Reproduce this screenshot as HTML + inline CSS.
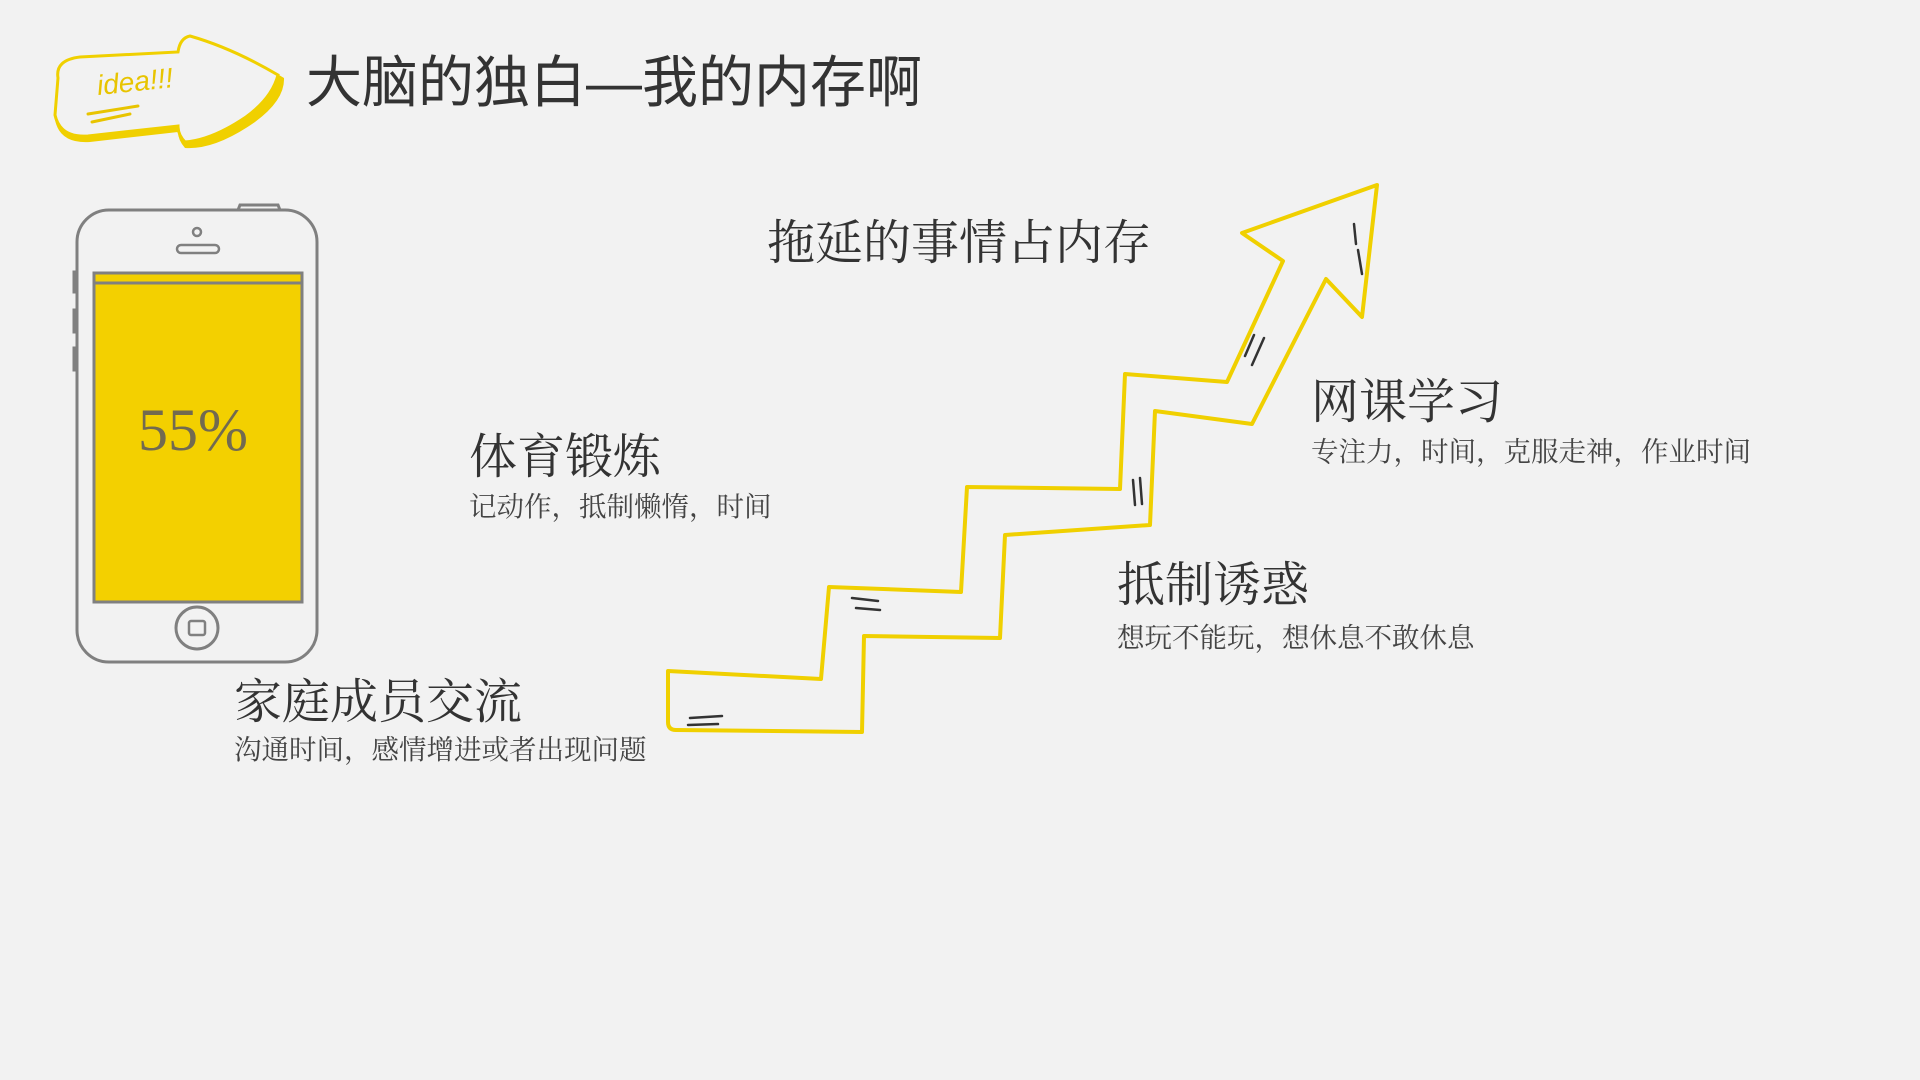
<!DOCTYPE html>
<html><head><meta charset="utf-8"><style>
html,body{margin:0;padding:0;background:#f2f2f2;}
body{width:1920px;height:1080px;position:relative;overflow:hidden;}
.t{position:absolute;white-space:nowrap;color:#333;font-family:"Liberation Serif","Noto Serif CJK SC",serif;line-height:1;}
.h{font-size:48px;}
.s{font-size:27.5px;color:#444;}
</style></head><body>
<svg width="1920" height="1080" style="position:absolute;left:0;top:0">
  <!-- idea arrow -->
  <path d="M60,80 Q55,60 80,58 L178,52 Q180,38 190,36 Q235,48 284,78 Q285,100 255,122 Q215,150 185,148 Q178,140 178,132 L90,142 Q60,144 55,120 Z" fill="#f0d000"/>
  <path d="M58,78 Q55,60 80,57 L178,52 Q180,38 190,36 Q232,48 278,75 Q272,98 246,117 Q212,140 185,142 Q178,135 178,126 L88,136 Q60,138 55,115 Z" fill="#f2f2f2" stroke="#f0d000" stroke-width="3"/>
  <text x="98" y="95" font-family="Liberation Sans, sans-serif" font-style="italic" font-size="28" fill="#e8c400" transform="rotate(-6 98 95)">idea!!!</text>
  <path d="M88,114 L138,106 M92,122 L130,114" stroke="#e8c400" stroke-width="3" fill="none" stroke-linecap="round"/>
  <!-- phone -->
  <rect x="77" y="210" width="240" height="452" rx="32" fill="#f2f2f2" stroke="#808080" stroke-width="3"/>
  <path d="M238,210 L240,205 L278,205 L280,210" fill="none" stroke="#808080" stroke-width="3"/>
  <path d="M77,272 h-3 v20 h3 M77,310 h-3 v22 h3 M77,348 h-3 v22 h3" fill="none" stroke="#808080" stroke-width="3"/>
  <rect x="94" y="273" width="208" height="329" fill="#f3d000" stroke="#808080" stroke-width="3"/>
  <line x1="94" y1="283" x2="302" y2="283" stroke="#808080" stroke-width="3"/>
  <circle cx="197" cy="232" r="4" fill="none" stroke="#808080" stroke-width="2.5"/>
  <rect x="177" y="245" width="42" height="8" rx="4" fill="none" stroke="#808080" stroke-width="2.5"/>
  <circle cx="197" cy="628" r="21" fill="none" stroke="#808080" stroke-width="3"/>
  <rect x="189" y="621" width="16" height="14" rx="2" fill="none" stroke="#808080" stroke-width="2.5"/>
  <text x="193" y="450" text-anchor="middle" font-family="Liberation Serif, serif" font-size="60" fill="#726a50">55%</text>
  <!-- stairs -->
  <path d="M668,671 L668,722 Q668,730 676,730 L862,732 L864,636 L1000,638 L1005,535 L1150,525 L1155,411 L1252,424 L1326,279 L1362,317 L1377,185 L1242,233 L1283,261 L1227,382 L1125,374 L1120,489 L967,487 L961,592 L829,587 L821,679 Z" fill="none" stroke="#f0d000" stroke-width="4" stroke-linejoin="round"/>
  <g stroke="#333" stroke-width="2.5" stroke-linecap="round" fill="none">
    <path d="M688,725 L718,724 M690,718 L722,716"/>
    <path d="M852,598 L878,601 M856,608 L880,610"/>
    <path d="M1133,480 L1135,505 M1140,478 L1142,504"/>
    <path d="M1245,356 L1254,335 M1252,365 L1264,338"/>
    <path d="M1354,224 L1356,244 M1358,250 L1362,274"/>
  </g>
</svg>
<div class="t" style="left:306px;top:55px;font-size:56px;font-family:'Liberation Sans','Noto Sans CJK SC',sans-serif;color:#333;">大脑的独白—我的内存啊</div>
<div class="t h" style="left:767px;top:220px;">拖延的事情占内存</div>
<div class="t h" style="left:469px;top:434px;">体育锻炼</div>
<div class="t s" style="left:469px;top:493px;">记动作，抵制懒惰，时间</div>
<div class="t h" style="left:1311px;top:379px;">网课学习</div>
<div class="t s" style="left:1311px;top:438px;">专注力，时间，克服走神，作业时间</div>
<div class="t h" style="left:1117px;top:562px;">抵制诱惑</div>
<div class="t s" style="left:1117px;top:624px;">想玩不能玩，想休息不敢休息</div>
<div class="t h" style="left:234px;top:679px;">家庭成员交流</div>
<div class="t s" style="left:234px;top:736px;">沟通时间，感情增进或者出现问题</div>
</body></html>
